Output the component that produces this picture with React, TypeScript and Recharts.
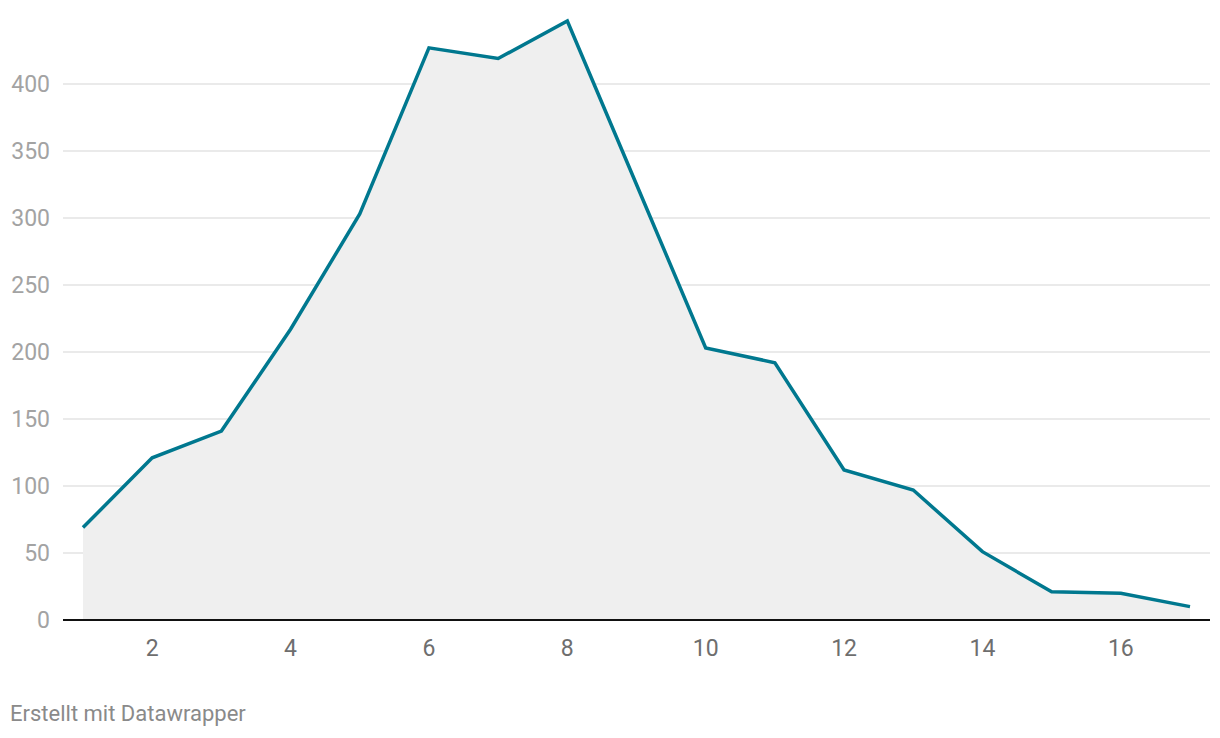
import { AreaChart, Area, XAxis, YAxis, CartesianGrid, ReferenceLine } from "recharts";

const xValues = [1, 2, 3, 4, 5, 6, 7, 8, 9, 10, 11, 12, 13, 14, 15, 16, 17];
const yValues = [69, 121, 141, 217, 303, 427, 419, 447, 325, 203, 192, 112, 97, 51, 21, 20, 10];
const xTicks = [2, 4, 6, 8, 10, 12, 14, 16];
const yTicks = [0, 50, 100, 150, 200, 250, 300, 350, 400];

const data = xValues.map((x, i) => ({ x, y: yValues[i] }));

const FONT = "Roboto, 'Noto Sans', sans-serif";

export default function App() {
  return (
    <div style={{ position: "relative", width: 1220, height: 738, margin: -8, fontFamily: FONT, background: "#fff" }}>
      <AreaChart
        width={1220}
        height={680}
        data={data}
        margin={{ top: 17, right: 10, bottom: 0, left: 0 }}
      >
        <CartesianGrid vertical={false} horizontalValues={yTicks} stroke="#e3e3e3" strokeWidth={1.5} />
        <XAxis
          dataKey="x"
          type="number"
          domain={[1, 17]}
          ticks={xTicks}
          padding={{ left: 20, right: 20 }}
          axisLine={false}
          tickLine={false}
          tickMargin={14}
          height={60}
          tick={{ fill: "#6e6e6e", fontSize: 23, fontFamily: FONT }}
        />
        <YAxis
          type="number"
          domain={[0, 450]}
          ticks={yTicks}
          axisLine={false}
          tickLine={false}
          width={63}
          tickMargin={7}
          tick={{ fill: "#a3a3a3", fontSize: 23, fontFamily: FONT }}
        />
        <Area
          type="linear"
          dataKey="y"
          stroke="#00788f"
          strokeWidth={3.5}
          fill="#efefef"
          fillOpacity={1}
          dot={false}
          activeDot={false}
          isAnimationActive={false}
        />
        <ReferenceLine y={0} stroke="#111" strokeWidth={2} />
      </AreaChart>
      <div style={{ position: "absolute", left: 10, top: 701, fontSize: 22, color: "#8a8a8a" }}>
        Erstellt mit Datawrapper
      </div>
    </div>
  );
}
